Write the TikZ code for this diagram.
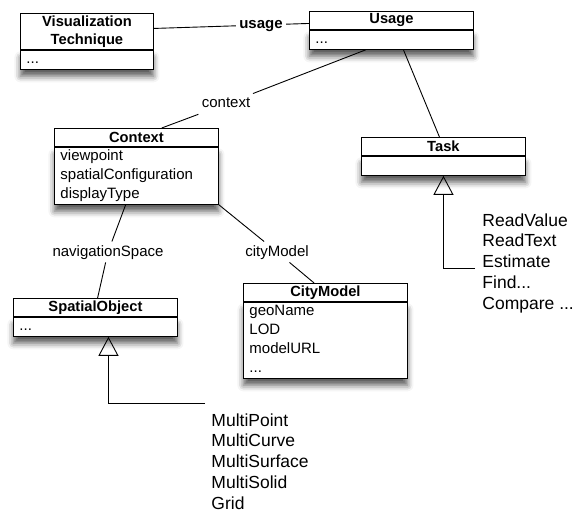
\documentclass[tikz,border=0pt]{standalone}
\usepackage{fontspec}
\setmainfont{Liberation Sans}
\usetikzlibrary{positioning, arrows.meta, shadows.blur}

\begin{document}
\begin{tikzpicture}[x=1pt, y=-1pt, line width=0.9pt,
		classhead/.style={draw, fill=white, font=\fontsize{14.7}{18}\selectfont\bfseries, align=center,
			minimum width=164pt, minimum height=18pt, inner sep=0pt, anchor=north west},
		classbody/.style={draw, fill=white, font=\fontsize{15}{19}\selectfont, align=left,
			text width=152pt, inner xsep=6pt, inner ysep=0pt,
			blur shadow={shadow xshift=0pt, shadow yshift=-7pt, shadow blur radius=6pt, shadow opacity=65}},
		rolename/.style={font=\fontsize{15}{18}\selectfont, text height=11pt, text depth=3pt, inner sep=3pt},
		members/.style={font=\fontsize{17.5}{20.8}\selectfont, align=left, inner sep=0pt, anchor=north west},
		generalization/.style={-{Triangle[open, width=20pt, length=19pt]}}]

		\useasboundingbox (0, 0) rectangle (581, 513);

		% classes
		\node[classhead, minimum width=133pt] (vthead) at (20, 13) {\strut Visualization\\Technique\strut};
		\node[classbody, text width=121pt, below=0pt of vthead] (vtbody) {\strut...};

		\node[classhead] (usagehead) at (309, 11) {Usage};
		\node[classbody, below=0pt of usagehead] (usagebody) {\strut...};

		\node[classhead] (taskhead) at (361, 137) {Task};
		\node[classbody, below=0pt of taskhead] (taskbody) {\strut};

		\node[classhead] (ctxhead) at (54, 128) {Context};
		\node[classbody, below=0pt of ctxhead] (ctxbody) {\strut viewpoint\\spatialConfiguration\\displayType\strut};

		\node[classhead] (sohead) at (13, 298) {SpatialObject};
		\node[classbody, below=0pt of sohead] (sobody) {\strut...};

		\node[classhead] (cmhead) at (243, 283) {CityModel};
		\node[classbody, below=0pt of cmhead] (cmbody) {\strut geoName\\LOD\\modelURL\\...\strut};

		% associations
		\node[rolename, font=\fontsize{15}{18}\selectfont\bfseries] (usage) at (261, 25) {usage};
		\node[rolename] (context) at (226, 104) {context};
		\node[rolename] (navspace) at (108, 252) {navigationSpace};
		\node[rolename] (citymodel) at (277, 252) {cityModel};

		\draw ([yshift=3pt]vthead.east) -- (usage) -- ([yshift=-3pt]usagehead.west);
		\draw (usagebody) -- (context) -- (ctxhead);
		\draw (ctxbody) -- (navspace) -- (sohead);
		\draw (ctxbody.south east) -- (citymodel) -- (cmhead);
		\draw ([xshift=12pt]usagebody.south) -- ([xshift=-4pt]taskhead.north);

		% subtypes
		\node[members] (tasklist) at (482, 211) {\strut ReadValue\\ReadText\\Estimate\\Find...\\Compare ...\strut};
		\node[members] (solist) at (211, 411) {\strut MultiPoint\\MultiCurve\\MultiSurface\\MultiSolid\\Grid\strut};

		\draw[generalization] ([shift={(-7pt,-5pt)}]tasklist.west) -| (taskbody.south);
		\draw[generalization] ([shift={(-6pt,8pt)}]solist.north west) -| ([xshift=13pt]sobody.south);
	\end{tikzpicture}
\end{document}
